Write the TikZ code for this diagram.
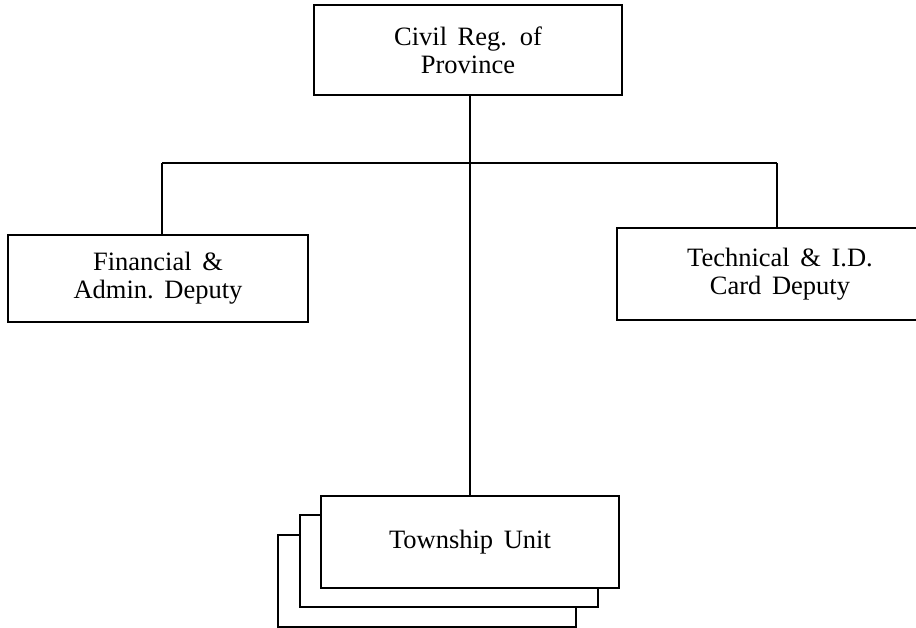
\documentclass[tikz,border=0pt]{standalone}
\usepackage{fontspec}
\setmainfont{Liberation Serif}
\newcommand{\boxfont}{\fontsize{26.5}{28}\selectfont\spaceskip=0.4em\relax}
\begin{document}
\begin{tikzpicture}[x=1pt,y=-1pt,
  orgbox/.style={draw=black, line width=1.7pt, fill=white, align=center,
    inner sep=0pt, font=\boxfont},
  link/.style={draw=black, line width=1.7pt}]
\useasboundingbox (0,0) rectangle (916,628);

% head office
\node[orgbox, minimum width=308pt, minimum height=90pt] (prov) at (468,50)
  {Civil Reg. of\\Province};

% deputies
\node[orgbox, minimum width=300pt, minimum height=87pt] (fin) at (158,278.5)
  {Financial \&\\Admin.\ Deputy};
\node[orgbox, minimum width=326pt, minimum height=92pt] (tech) at (780,274)
  {Technical \& I.D.\\Card Deputy};

% stack of township units
\node[orgbox, minimum width=298pt, minimum height=92pt] (unit3) at (427,581) {};
\node[orgbox, minimum width=298pt, minimum height=92pt] (unit2) at (449,561) {};
\node[orgbox, minimum width=298pt, minimum height=92pt] (unit) at (470,542)
  {Township Unit};

% connectors
\coordinate (busL) at (162,163);
\coordinate (busR) at (777,163);
\draw[link] (prov.south -| unit.north) -- (unit.north);
\draw[link] (busL) -- (busR);
\draw[link] (busL) -- (busL |- fin.north);
\draw[link] (busR) -- (busR |- tech.north);
\end{tikzpicture}
\end{document}
